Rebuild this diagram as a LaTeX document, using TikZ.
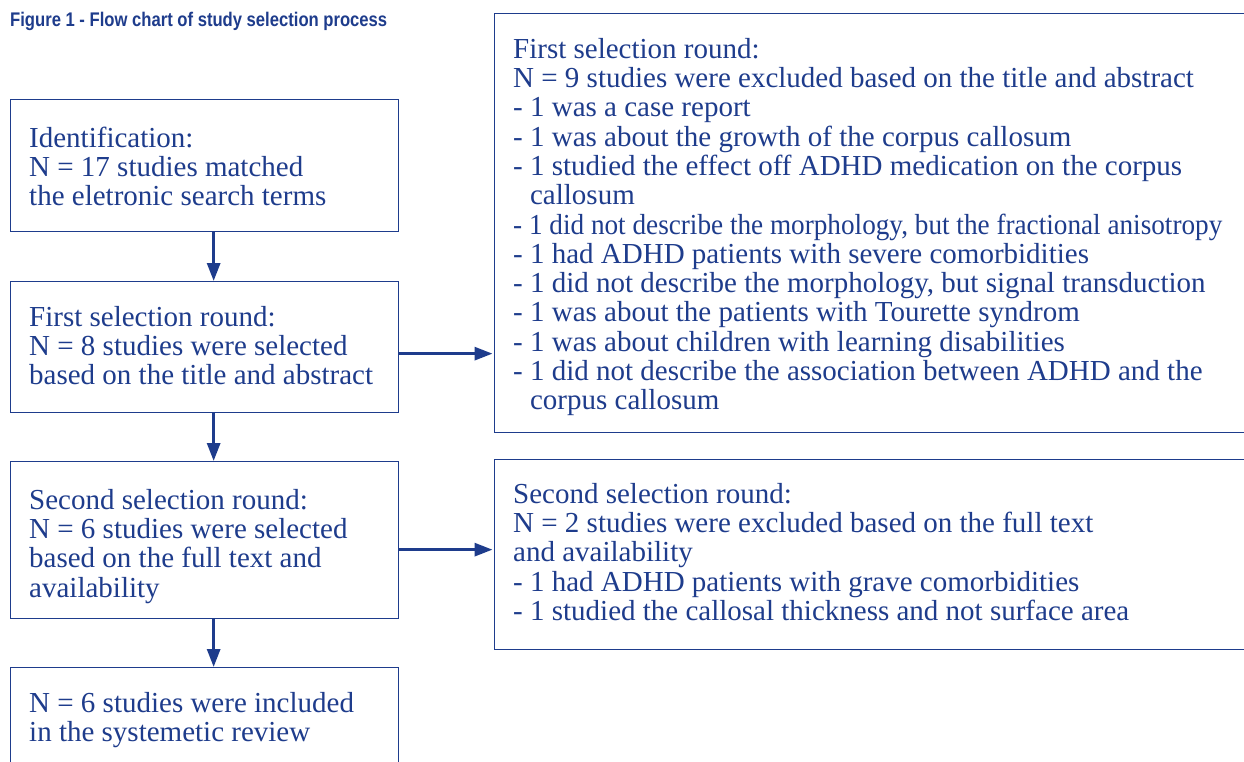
\documentclass[tikz,border=0pt]{standalone}
\usepackage{graphicx}
\usepackage{fontspec}
\setmainfont{Liberation Serif}
\setsansfont{Liberation Sans}
\usetikzlibrary{arrows.meta}
\definecolor{ink}{RGB}{30,60,140}
% fixed height for the first line of each text block
\newcommand\firstln{\rule{0pt}{22bp}}
\newcommand\cont{\hphantom{- }}
% horizontally squeezed line
\newcommand\sq[2]{\scalebox{#1}[1]{#2}}

\begin{document}
\begin{tikzpicture}[x=1bp,y=-1bp,
  box/.style={draw=ink, line width=1.3bp, anchor=north west, inner sep=0pt},
  txt/.style={anchor=north west, inner sep=0pt, align=left, text=ink,
    font=\fontsize{29bp}{29.3bp}\selectfont},
  arr/.style={draw=ink, line width=3bp, -{Triangle[length=18bp,width=13bp]}}]
\clip (0,0) rectangle (1244,762);
\fill[white] (0,0) rectangle (1244,762);

% caption
\node[anchor=base west, inner sep=0pt, text=ink] (title) at (10,26.7)
  {\resizebox{377bp}{14.3bp}{\sffamily\bfseries Figure 1 - Flow chart of study selection process}};

% left column
\node[box, minimum width=388bp, minimum height=132bp] (b1) at (10,99) {};
\node[box, minimum width=388bp, minimum height=131bp] (b2) at (10,281) {};
\node[box, minimum width=388bp, minimum height=157bp] (b3) at (10,461) {};
\node[box, minimum width=388bp, minimum height=130bp] (b4) at (10,667) {};

\node[txt] (t1) at (29,125) {\firstln Identification:\\N = 17 studies matched\\the eletronic search terms};
\node[txt] (t2) at (29,304) {\firstln First selection round:\\N = 8 studies were selected\\based on the title and abstract};
\node[txt] (t3) at (29,487) {\firstln Second selection round:\\N = 6 studies were selected\\based on the full text and\\availability};
\node[txt] (t4) at (29,690) {\firstln N = 6 studies were included\\in the systemetic review};

% right column
\node[box, minimum width=780bp, minimum height=419bp] (ra) at (494,13) {};
\node[box, minimum width=780bp, minimum height=190bp] (rb) at (494,459) {};

\node[txt] (ta) at (513,36) {\firstln First selection round:\\
N = 9 studies were excluded based on the title and abstract\\
- 1 was a case report\\
- 1 was about the growth of the corpus callosum\\
- 1 studied the effect off ADHD medication on the corpus\\
\cont callosum\\
\sq{0.938}{- 1 did not describe the morphology, but the fractional anisotropy}\\
- 1 had ADHD patients with severe comorbidities\\
- 1 did not describe the morphology, but signal transduction\\
- 1 was about the patients with Tourette syndrom\\
- 1 was about children with learning disabilities\\
- 1 did not describe the association between ADHD and the\\
\cont corpus callosum};

\node[txt] (tb) at (513,481) {\firstln Second selection round:\\
N = 2 studies were excluded based on the full text\\
and availability\\
- 1 had ADHD patients with grave comorbidities\\
- 1 studied the callosal thickness and not surface area};

% connectors
\draw[arr] ([xshift=9bp]b1.south) -- ([xshift=9bp]b2.north);
\draw[arr] ([xshift=9bp]b2.south) -- ([xshift=9bp]b3.north);
\draw[arr] ([xshift=9bp]b3.south) -- ([xshift=9bp]b4.north);
\coordinate (a1) at ([yshift=-6.5bp]b2.east);
\coordinate (a2) at ([yshift=-9.5bp]b3.east);
\draw[arr, shorten >=1.5bp] (a1) -- (a1 -| ra.west);
\draw[arr, shorten >=1.5bp] (a2) -- (a2 -| rb.west);
\end{tikzpicture}
\end{document}
